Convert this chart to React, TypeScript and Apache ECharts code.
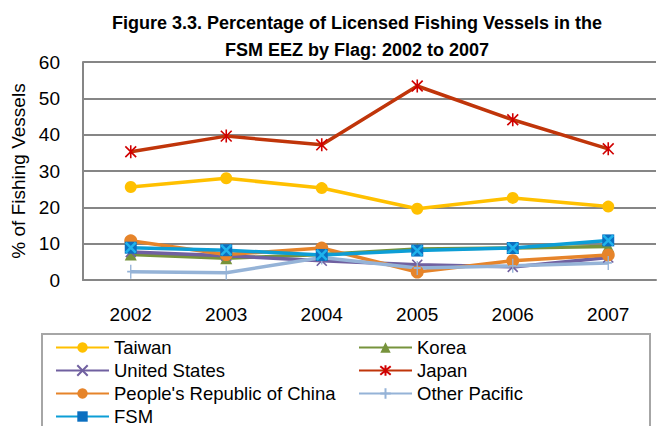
import React, { useEffect, useRef } from "react";
import * as echarts from "echarts";

const years = ["2002", "2003", "2004", "2005", "2006", "2007"];
const taiwan = [25.6, 28, 25.3, 19.6, 22.6, 20.2];
const korea = [7, 6, 7, 8.5, 8.8, 9.2];
const unitedStates = [7.7, 6.7, 5.3, 4.2, 3.6, 6.2];
const japan = [35.3, 39.6, 37.2, 53.4, 44.1, 36.1];
const prc = [10.8, 7, 8.8, 2.2, 5.3, 6.9];
const otherPacific = [2.3, 2, 6.2, 3.3, 3.9, 4.7];
const fsm = [8.9, 8.2, 6.9, 8.1, 8.8, 10.9];
const yTicks = [0, 10, 20, 30, 40, 50, 60];

const FONT = "'Liberation Sans', Arial, sans-serif";
const X_PATH = "path://M0 0L10 10M10 0L0 10";
const STAR_PATH = "path://M0 0L10 10M10 0L0 10M5 -1L5 11";
const PLUS_PATH = "path://M5 0L5 14M0 7L10 7";

export default function App() {
  const ref = useRef<HTMLDivElement>(null);
  useEffect(() => {
    if (!ref.current) return;
    const chart = echarts.init(ref.current, null, { renderer: "svg" });
    const lineSeries = (
      name: string,
      data: number[],
      color: string,
      symbol: string,
      symbolSize: number | number[],
      stroke?: string
    ) => ({
      name,
      type: "line",
      data,
      symbol,
      symbolSize,
      showAllSymbol: true,
      symbolKeepAspect: true,
      lineStyle: { color, width: 3.5 },
      itemStyle: stroke
        ? { color: "transparent", borderColor: stroke, borderWidth: 1.6 }
        : { color, borderWidth: 0 },
      emphasis: { disabled: true },
      z: 2,
    });
    chart.setOption({
      animation: false,
      title: {
        text: "Figure 3.3. Percentage of Licensed Fishing Vessels in the\nFSM EEZ by Flag: 2002 to 2007",
        left: 352,
        top: 4,
        textAlign: "center",
        textStyle: {
          fontFamily: FONT,
          fontWeight: "bold",
          fontSize: 18,
          lineHeight: 27,
          color: "#000",
        },
      },
      grid: { left: 83, right: 4, top: 62, bottom: 146 },
      xAxis: {
        type: "category",
        data: years,
        boundaryGap: true,
        axisLine: { lineStyle: { color: "#868686", width: 2 } },
        axisTick: { show: false },
        axisLabel: { color: "#000", fontSize: 19, fontFamily: FONT, margin: 25 },
      },
      yAxis: {
        type: "value",
        min: yTicks[0],
        max: yTicks[yTicks.length - 1],
        interval: 10,
        name: "% of Fishing Vessels",
        nameLocation: "middle",
        nameGap: 45,
        nameTextStyle: { color: "#000", fontSize: 19, fontFamily: FONT },
        axisLine: { show: true, lineStyle: { color: "#868686", width: 2 } },
        axisTick: { show: false },
        splitLine: { lineStyle: { color: "#868686", width: 2 } },
        axisLabel: { color: "#000", fontSize: 19, fontFamily: FONT, margin: 23 },
      },
      legend: {
        left: 55,
        top: 338,
        width: 640,
        itemWidth: 53,
        itemHeight: 13,
        itemGap: 4,
        padding: 0,
        data: ["Taiwan", "Korea", "United States", "Japan", "People's Republic of China", "Other Pacific", "FSM"],
        textStyle: {
          color: "#000",
          fontSize: 18.5,
          fontFamily: FONT,
          width: 240,
          lineHeight: 13,
          overflow: "truncate",
        },
      },
      graphic: [
        {
          type: "rect",
          shape: { x: 42, y: 334, width: 608, height: 110 },
          style: { fill: "none", stroke: "#A6A6A6", lineWidth: 2 },
          silent: true,
        },
      ],
      series: [
        lineSeries("Taiwan", taiwan, "#FFC000", "circle", 12),
        lineSeries("Korea", korea, "#77933C", "triangle", 12),
        lineSeries("United States", unitedStates, "#7060A0", X_PATH, 10, "#7060A0"),
        lineSeries("Japan", japan, "#C0350A", STAR_PATH, 13, "#D00000"),
        lineSeries("People's Republic of China", prc, "#E6842A", "circle", 13),
        lineSeries("Other Pacific", otherPacific, "#95B3D7", PLUS_PATH, [10, 14], "#95B3D7"),
        {
          ...lineSeries("FSM", fsm, "#0C9ED6", "rect", 12),
          itemStyle: { color: "#0B6FC0", borderWidth: 0 },
        },
        {
          name: "FSM",
          type: "line",
          data: fsm,
          symbol: X_PATH,
          symbolSize: 10,
          showAllSymbol: true,
          lineStyle: { width: 0, opacity: 0 },
          itemStyle: { color: "transparent", borderColor: "#1FB3EC", borderWidth: 2.5 },
          emphasis: { disabled: true },
          z: 3,
        },
      ],
    });
    return () => chart.dispose();
  }, []);
  return <div ref={ref} style={{ width: 660, height: 426, position: "absolute", left: 0, top: 0 }} />;
}
